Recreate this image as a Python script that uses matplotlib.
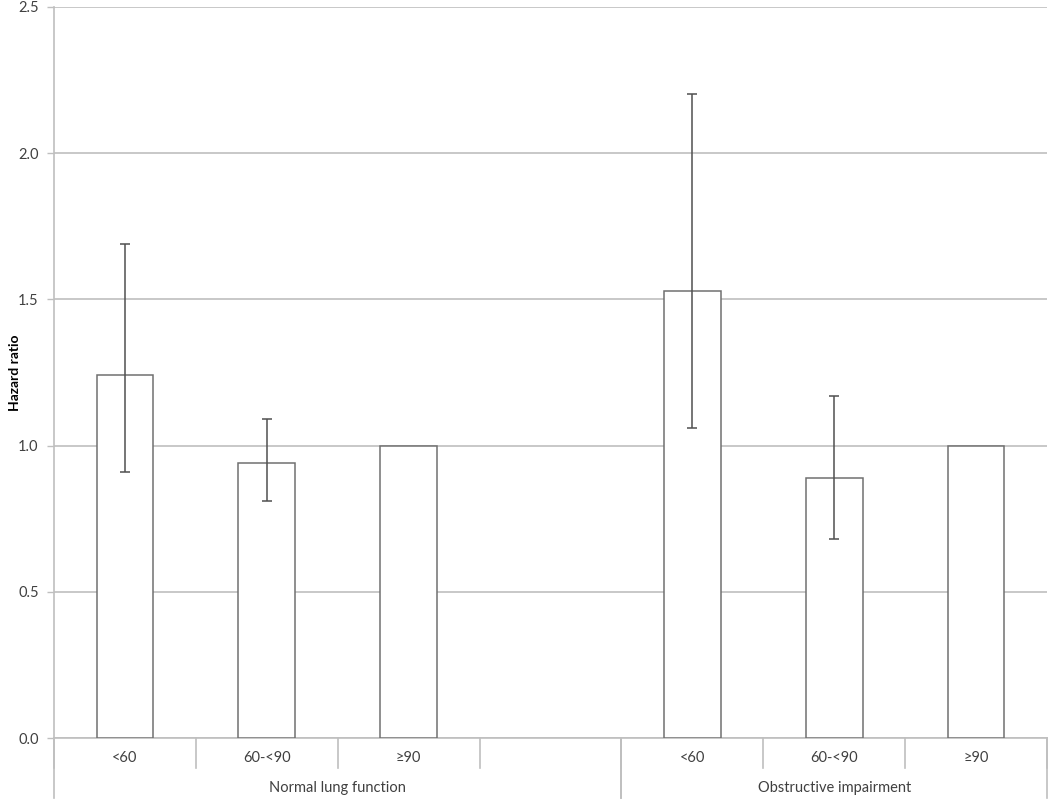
import numpy as np
import matplotlib
matplotlib.use("Agg")
import matplotlib.pyplot as plt
from matplotlib.transforms import blended_transform_factory

# data (hazard ratio with 95% CI)
categories = ["<60", "60-<90", "\u226590", "", "<60", "60-<90", "\u226590"]
hazard = [1.24, 0.94, 1.00, np.nan, 1.53, 0.89, 1.00]
ci_low = [0.91, 0.81, np.nan, np.nan, 1.06, 0.68, np.nan]
ci_high = [1.69, 1.09, np.nan, np.nan, 2.20, 1.17, np.nan]
groups = ["Normal lung function", "Obstructive impairment"]
group_sizes = [4, 3]

plt.rcParams["font.family"] = ["Lato", "DejaVu Sans"]
txt = "#404040"
grid_c = "#bfbfbf"

fig = plt.figure(figsize=(10.5, 7.99), dpi=100)
ax = fig.add_axes([0.0514, 0.076, 0.9457, 0.9156])

xs = np.arange(len(categories))
hz = np.array(hazard)
lo = np.array(ci_low)
hi = np.array(ci_high)
ax.bar(xs, hz, 0.4, color="white", edgecolor="#707070", linewidth=1.1, zorder=3)
m = ~np.isnan(lo)
ax.errorbar(xs[m], hz[m], yerr=[hz[m] - lo[m], hi[m] - hz[m]], fmt="none",
            ecolor="#505050", elinewidth=1.1, capsize=3.5, capthick=1.1, zorder=4)

ax.set_xlim(-0.5, len(categories) - 0.5)
ax.set_ylim(0, 2.5)
ax.set_yticks(np.arange(0, 2.51, 0.5))
ax.set_yticklabels([f"{v:.1f}" for v in np.arange(0, 2.51, 0.5)])
ax.yaxis.grid(True, color=grid_c, linewidth=1.2, zorder=0)
ax.set_axisbelow(True)
ax.tick_params(axis="y", length=5, width=1, color=grid_c, labelsize=10.5,
               labelcolor=txt, pad=6)
ax.set_xticks([])
for s in ("top", "right"):
    ax.spines[s].set_visible(False)
for s in ("left", "bottom"):
    ax.spines[s].set_color(grid_c)
    ax.spines[s].set_linewidth(1.2)
ax.set_ylabel("Hazard ratio", fontsize=10, fontweight="bold", color="black",
              va="center")
ax.yaxis.set_label_coords(-0.039, 0.5)

# two-level category axis, Excel style
tr = blended_transform_factory(ax.transData, ax.transAxes)
short, long_ = -0.041, -0.081
for b in np.arange(len(categories) + 1) - 0.5:
    ax.plot([b, b], [0, short], color=grid_c, lw=1.2, transform=tr, clip_on=False)
for x, lab in zip(xs, categories):
    ax.text(x, -0.0265, lab, transform=tr, ha="center", va="center",
            fontsize=10.5, color=txt)
start = -0.5
for g, n in zip(groups, group_sizes):
    for b in (start, start + n):
        ax.plot([b, b], [0, long_], color=grid_c, lw=1.2, transform=tr, clip_on=False)
    ax.text(start + n / 2, -0.0675, g, transform=tr, ha="center", va="center",
            fontsize=10.5, color=txt)
    start += n

fig.savefig("out.png", dpi=100)
